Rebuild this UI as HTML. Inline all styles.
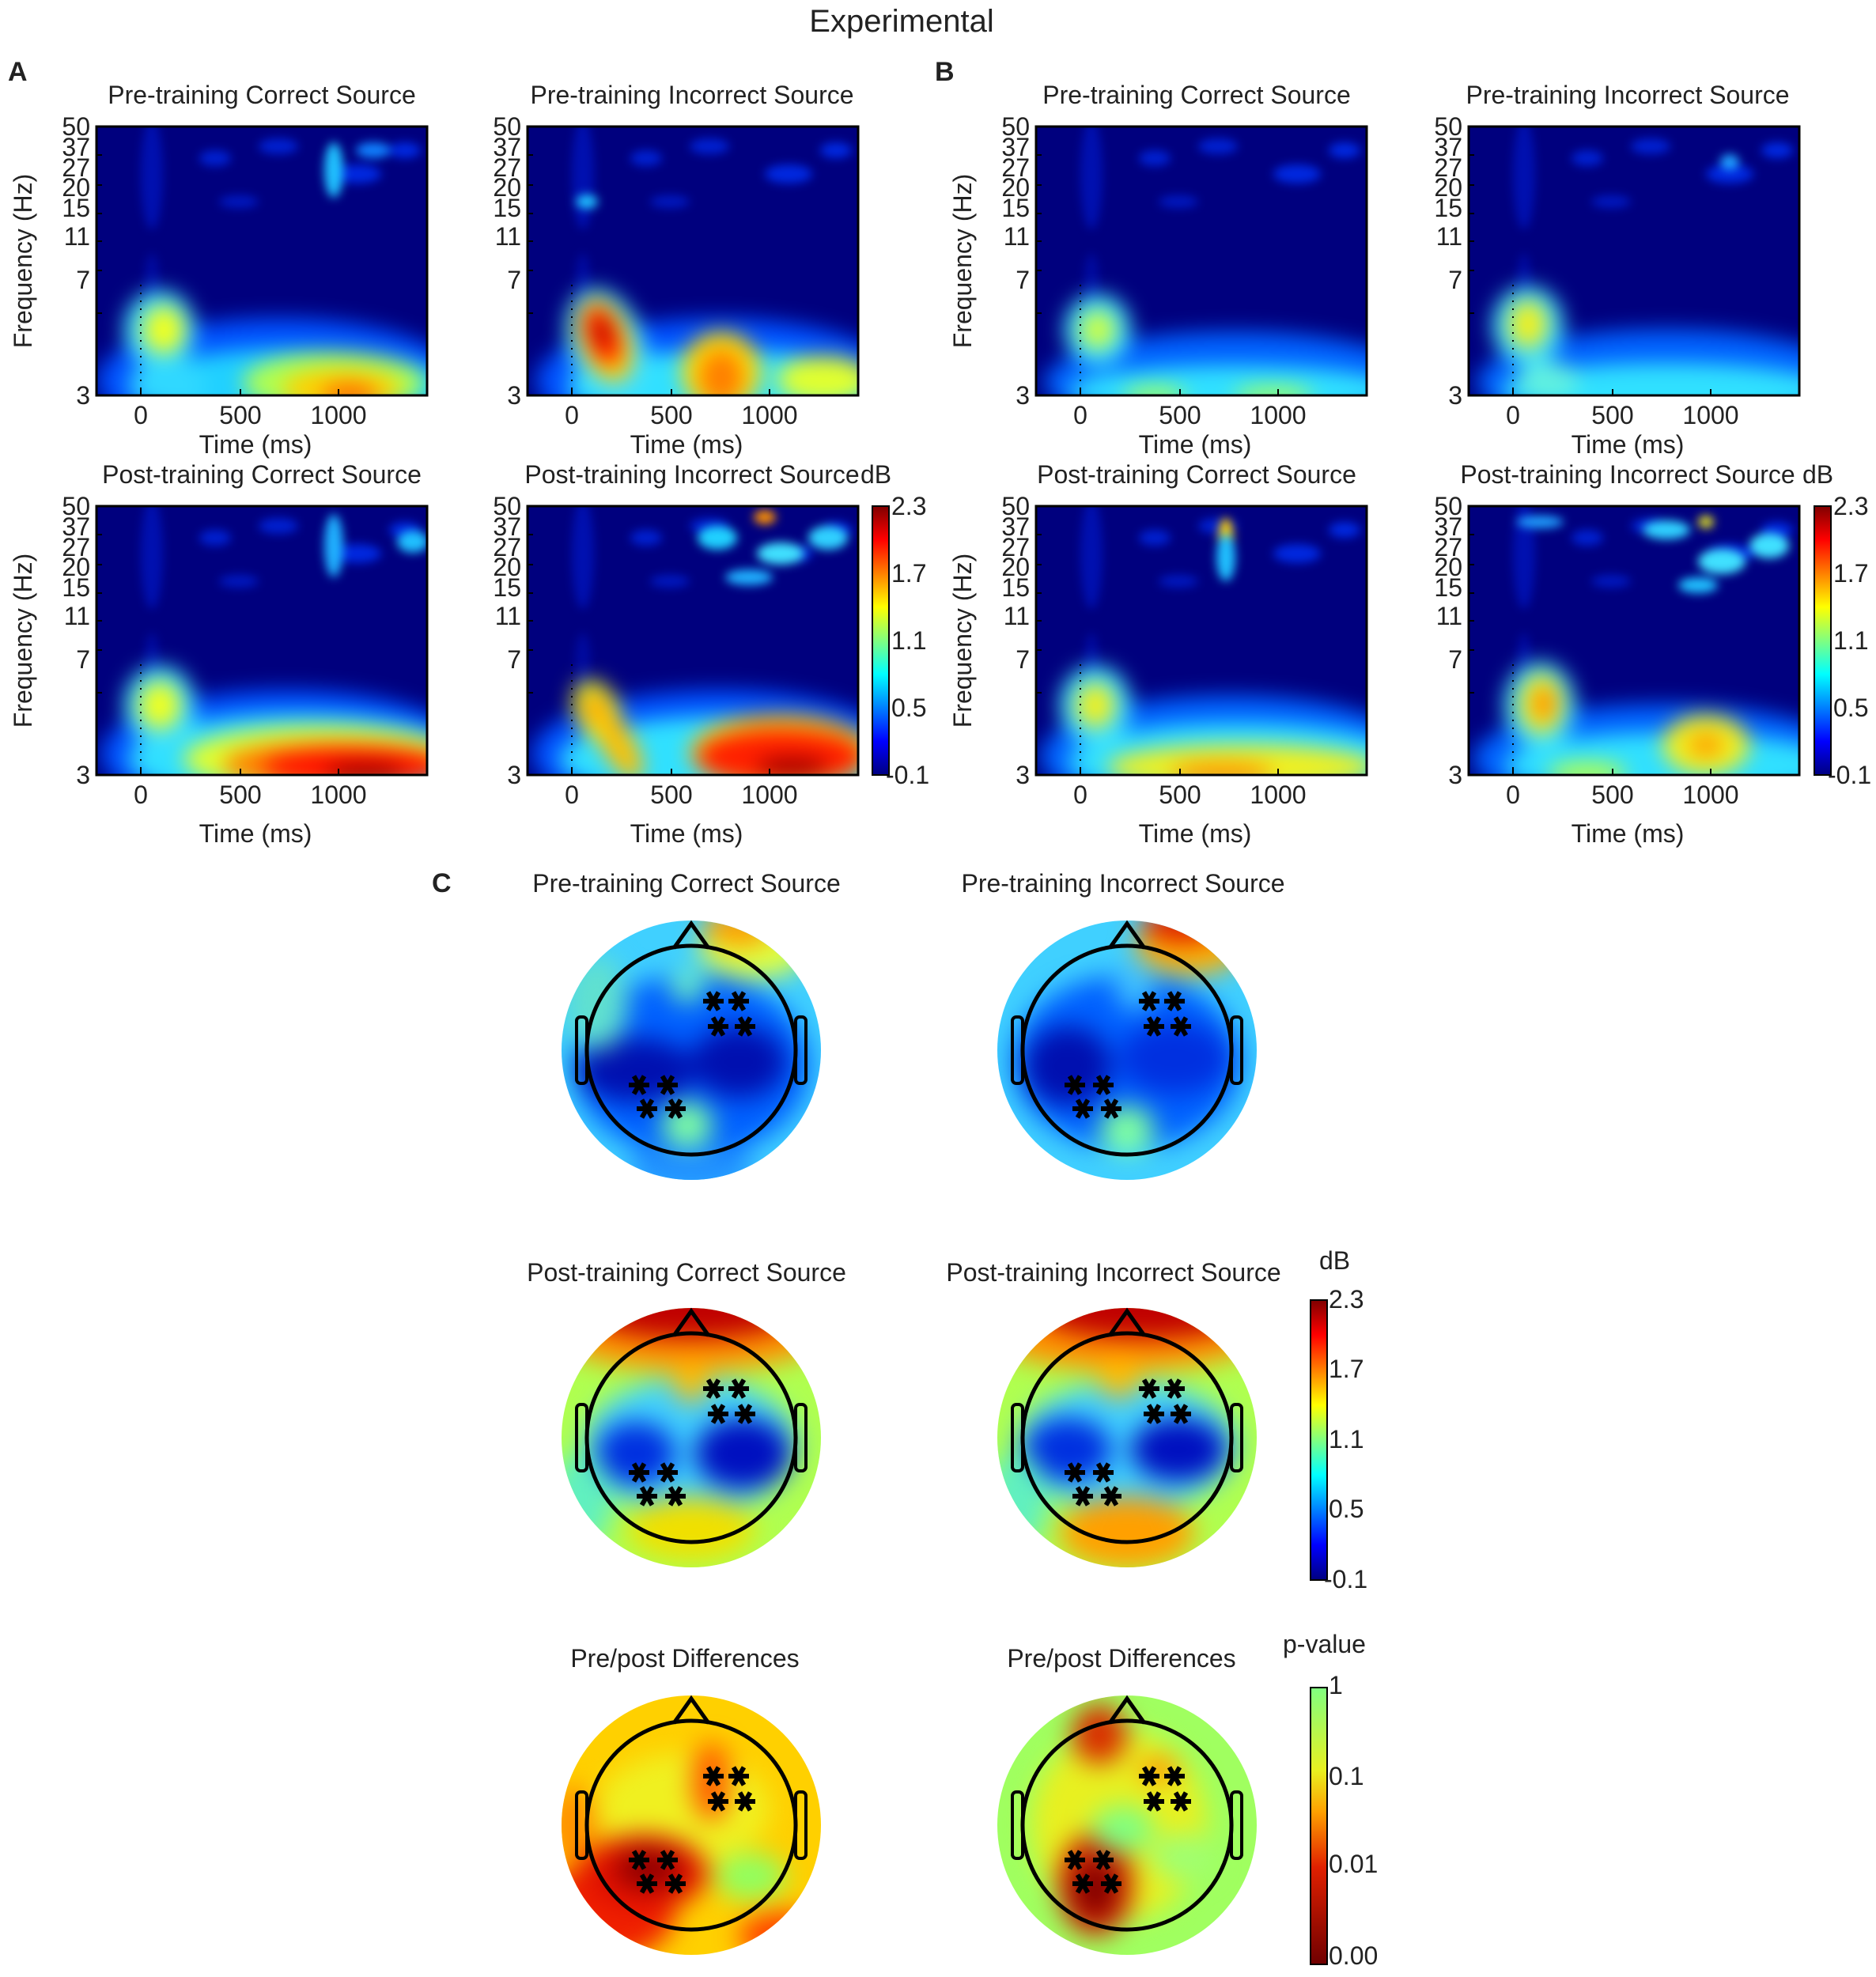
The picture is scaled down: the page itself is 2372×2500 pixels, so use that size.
<!DOCTYPE html>
<html><head><meta charset="utf-8"><style>
html,body{margin:0;padding:0;background:#fff}
svg{display:block}
text{font-family:"Liberation Sans",sans-serif;fill:#222}
.t{font-size:32px;text-anchor:middle}
.k{font-size:32px}
.ke{font-size:32px;text-anchor:end}
.kc{font-size:32px;text-anchor:middle}
</style></head><body>
<svg width="2372" height="2500" viewBox="0 0 2372 2500" xmlns="http://www.w3.org/2000/svg" color-interpolation-filters="sRGB">
<defs>
<filter id="bs" x="-30%" y="-30%" width="160%" height="160%" color-interpolation-filters="sRGB"><feGaussianBlur stdDeviation="13"/></filter>
<filter id="bt" x="-30%" y="-30%" width="160%" height="160%" color-interpolation-filters="sRGB"><feGaussianBlur stdDeviation="6"/></filter>
<filter id="bh" x="-30%" y="-30%" width="160%" height="160%" color-interpolation-filters="sRGB"><feGaussianBlur stdDeviation="16"/></filter>
<clipPath id="cpS"><rect x="0" y="0" width="418" height="340"/></clipPath>
<clipPath id="cpH"><circle cx="0" cy="0" r="164"/></clipPath>
<linearGradient id="jet" x1="0" y1="0" x2="0" y2="1">
<stop offset="0" stop-color="#800000"/><stop offset=".125" stop-color="#ff0000"/><stop offset=".375" stop-color="#ffff00"/><stop offset=".5" stop-color="#80ff80"/><stop offset=".625" stop-color="#00ffff"/><stop offset=".875" stop-color="#0000ff"/><stop offset="1" stop-color="#000080"/>
</linearGradient>
<linearGradient id="pg" x1="0" y1="0" x2="0" y2="1">
<stop offset="0" stop-color="#80ff80"/><stop offset=".3" stop-color="#e8f020"/><stop offset=".45" stop-color="#ffa000"/><stop offset=".65" stop-color="#e02000"/><stop offset="1" stop-color="#700000"/>
</linearGradient>
<g id="axS">
<rect x="0" y="0" width="418" height="340" fill="none" stroke="#000" stroke-width="3"/>
<path d="M0 36h7M0 74h7M0 110h7M0 145h7M0 182h7M0 236h7M56 340v-8M182 340v-8M306 340v-8" stroke="#000" stroke-width="2"/>
<path d="M56 200V340" stroke="#000" stroke-width="2" stroke-dasharray="2 8"/>
</g>
<g id="ast"><path d="M-13 0H13M-6.5 -11.3L6.5 11.3M6.5 -11.3L-6.5 11.3" stroke="#000" stroke-width="6"/></g>
<g id="head" fill="none" stroke="#000">
<circle cx="0" cy="0" r="132" stroke-width="5"/>
<path d="M-22 -129L0 -160L22 -129" stroke-width="5"/>
<rect x="-145" y="-42" width="13" height="84" rx="5" stroke-width="4"/>
<rect x="132" y="-42" width="13" height="84" rx="5" stroke-width="4"/>
</g>
<g id="stars">
<use href="#ast" x="28" y="-62"/><use href="#ast" x="60" y="-62"/>
<use href="#ast" x="34" y="-30"/><use href="#ast" x="68" y="-30"/>
<use href="#ast" x="-66" y="44"/><use href="#ast" x="-30" y="44"/>
<use href="#ast" x="-56" y="74"/><use href="#ast" x="-20" y="74"/>
</g>
<g id="spk">
<ellipse cx="70" cy="60" rx="14" ry="70" fill="#0010b0"/>
<ellipse cx="70" cy="200" rx="10" ry="40" fill="#000aa0"/>
<ellipse cx="150" cy="40" rx="20" ry="10" fill="#0020d0"/>
<ellipse cx="230" cy="25" rx="25" ry="10" fill="#0020d0"/>
<ellipse cx="330" cy="60" rx="30" ry="12" fill="#0028e0"/>
<ellipse cx="390" cy="30" rx="20" ry="10" fill="#0028e0"/>
<ellipse cx="180" cy="95" rx="25" ry="8" fill="#0018c0"/>
</g>
</defs>

<text x="1140" y="40" style="font-size:40px;text-anchor:middle">Experimental</text>
<text x="10" y="102" style="font-size:34px;font-weight:bold">A</text>
<text x="1182" y="102" style="font-size:34px;font-weight:bold">B</text>
<text x="546" y="1128" style="font-size:34px;font-weight:bold">C</text>

<!-- A1 -->
<g transform="translate(122,160)">
<g clip-path="url(#cpS)"><rect width="418" height="340" fill="#00007e"/>
<g filter="url(#bt)"><use href="#spk"/><ellipse cx="300" cy="55" rx="12" ry="35" fill="#20c0ff"/><ellipse cx="350" cy="30" rx="22" ry="10" fill="#1080ff"/></g>
<g filter="url(#bs)">
<ellipse cx="230" cy="322" rx="230" ry="80" fill="#0050ff"/>
<ellipse cx="250" cy="330" rx="200" ry="50" fill="#20d0ff"/>
<ellipse cx="80" cy="257" rx="45" ry="50" fill="#40e0ff"/>
<ellipse cx="90" cy="327" rx="50" ry="30" fill="#30d8ff"/>
<ellipse cx="85" cy="257" rx="26" ry="30" fill="#f0ff20"/>
<ellipse cx="300" cy="324" rx="115" ry="38" fill="#b0ff50"/>
<ellipse cx="310" cy="332" rx="75" ry="25" fill="#ffd000"/>
<ellipse cx="320" cy="340" rx="35" ry="15" fill="#ff7000"/>
</g></g>
<use href="#axS"/>
</g>
<!-- A2 -->
<g transform="translate(667,160)">
<g clip-path="url(#cpS)"><rect width="418" height="340" fill="#00007e"/>
<g filter="url(#bt)"><use href="#spk"/><ellipse cx="75" cy="95" rx="14" ry="9" fill="#20c0ff"/></g>
<g filter="url(#bs)">
<ellipse cx="240" cy="322" rx="230" ry="80" fill="#0050ff"/>
<ellipse cx="250" cy="330" rx="200" ry="48" fill="#30e0ff"/>
<ellipse cx="100" cy="277" rx="48" ry="75" fill="#40e0ff" transform="rotate(-20 100 277)"/>
<ellipse cx="98" cy="270" rx="32" ry="55" fill="#ffd000" transform="rotate(-20 98 270)"/>
<ellipse cx="95" cy="264" rx="20" ry="38" fill="#ff2000" transform="rotate(-20 95 264)"/>
<ellipse cx="95" cy="260" rx="9" ry="18" fill="#b00000"/>
<ellipse cx="245" cy="310" rx="50" ry="50" fill="#ffe000"/>
<ellipse cx="245" cy="317" rx="28" ry="35" fill="#ff8000"/>
<ellipse cx="375" cy="320" rx="60" ry="30" fill="#e0ff30"/>
</g></g>
<use href="#axS"/>
</g>
<!-- B1 -->
<g transform="translate(1310,160)">
<g clip-path="url(#cpS)"><rect width="418" height="340" fill="#00007e"/>
<g filter="url(#bt)"><use href="#spk"/></g>
<g filter="url(#bs)">
<ellipse cx="250" cy="324" rx="240" ry="65" fill="#0060ff"/>
<ellipse cx="250" cy="334" rx="210" ry="32" fill="#30e0ff"/>
<ellipse cx="78" cy="257" rx="42" ry="45" fill="#40e0ff"/>
<ellipse cx="78" cy="257" rx="22" ry="24" fill="#d0ff40"/>
<ellipse cx="150" cy="340" rx="40" ry="12" fill="#a0ff60"/>
<ellipse cx="300" cy="340" rx="50" ry="12" fill="#a0ff60"/>
</g></g>
<use href="#axS"/>
</g>
<!-- B2 -->
<g transform="translate(1857,160)">
<g clip-path="url(#cpS)"><rect width="418" height="340" fill="#00007e"/>
<g filter="url(#bt)"><use href="#spk"/><ellipse cx="330" cy="45" rx="12" ry="10" fill="#20a0ff"/></g>
<g filter="url(#bs)">
<ellipse cx="250" cy="324" rx="240" ry="68" fill="#0060ff"/>
<ellipse cx="250" cy="334" rx="210" ry="35" fill="#30e0ff"/>
<ellipse cx="75" cy="252" rx="45" ry="50" fill="#40e0ff"/>
<ellipse cx="75" cy="250" rx="24" ry="30" fill="#f0f020"/>
<ellipse cx="100" cy="322" rx="40" ry="25" fill="#60f0e0"/>
</g></g>
<use href="#axS"/>
</g>
<!-- A3 -->
<g transform="translate(122,640)">
<g clip-path="url(#cpS)"><rect width="418" height="340" fill="#00007e"/>
<g filter="url(#bt)"><use href="#spk"/><ellipse cx="300" cy="50" rx="12" ry="40" fill="#20b0ff"/><ellipse cx="400" cy="45" rx="20" ry="14" fill="#20c0ff"/></g>
<g filter="url(#bs)">
<ellipse cx="240" cy="314" rx="235" ry="82" fill="#0050ff"/>
<ellipse cx="255" cy="320" rx="215" ry="58" fill="#30e0ff"/>
<ellipse cx="80" cy="252" rx="45" ry="50" fill="#40e0ff"/>
<ellipse cx="80" cy="252" rx="26" ry="30" fill="#f0ff20"/>
<ellipse cx="285" cy="320" rx="175" ry="42" fill="#e0ff30"/>
<ellipse cx="305" cy="327" rx="145" ry="30" fill="#ff8000"/>
<ellipse cx="325" cy="330" rx="115" ry="22" fill="#ff1000"/>
<ellipse cx="340" cy="338" rx="50" ry="12" fill="#a00000"/>
</g></g>
<use href="#axS"/>
</g>
<!-- A4 -->
<g transform="translate(667,640)">
<g clip-path="url(#cpS)"><rect width="418" height="340" fill="#00007e"/>
<g filter="url(#bt)"><use href="#spk"/>
<ellipse cx="240" cy="40" rx="25" ry="15" fill="#20d0ff"/><ellipse cx="320" cy="60" rx="30" ry="14" fill="#40e0ff"/><ellipse cx="380" cy="40" rx="25" ry="15" fill="#30d0ff"/><ellipse cx="280" cy="90" rx="30" ry="10" fill="#20b0ff"/><ellipse cx="300" cy="14" rx="14" ry="9" fill="#ff9000"/></g>
<g filter="url(#bs)">
<ellipse cx="240" cy="314" rx="235" ry="82" fill="#0050ff"/>
<ellipse cx="255" cy="320" rx="215" ry="55" fill="#30e0ff"/>
<ellipse cx="88" cy="260" rx="28" ry="42" fill="#e0ff30" transform="rotate(-25 88 260)"/>
<ellipse cx="88" cy="260" rx="16" ry="26" fill="#ffa000" transform="rotate(-25 88 260)"/>
<ellipse cx="115" cy="302" rx="20" ry="50" fill="#ffc000" transform="rotate(-30 115 302)"/>
<ellipse cx="320" cy="312" rx="115" ry="48" fill="#ffd000"/>
<ellipse cx="320" cy="317" rx="105" ry="35" fill="#ff2000"/>
<ellipse cx="335" cy="330" rx="45" ry="12" fill="#a00000"/>
</g></g>
<use href="#axS"/>
</g>
<!-- B3 -->
<g transform="translate(1310,640)">
<g clip-path="url(#cpS)"><rect width="418" height="340" fill="#00007e"/>
<g filter="url(#bt)"><use href="#spk"/><ellipse cx="240" cy="45" rx="10" ry="30" fill="#ffd000"/><ellipse cx="240" cy="65" rx="12" ry="30" fill="#20c0ff"/></g>
<g filter="url(#bs)">
<ellipse cx="245" cy="317" rx="240" ry="78" fill="#0060ff"/>
<ellipse cx="255" cy="324" rx="215" ry="50" fill="#30e0ff"/>
<ellipse cx="75" cy="252" rx="45" ry="50" fill="#40e0ff"/>
<ellipse cx="75" cy="252" rx="24" ry="28" fill="#f0f020"/>
<ellipse cx="260" cy="330" rx="170" ry="28" fill="#f0f020"/>
<ellipse cx="235" cy="337" rx="65" ry="12" fill="#ff9000"/>
</g></g>
<use href="#axS"/>
</g>
<!-- B4 -->
<g transform="translate(1857,640)">
<g clip-path="url(#cpS)"><rect width="418" height="340" fill="#00007e"/>
<g filter="url(#bt)"><use href="#spk"/>
<ellipse cx="250" cy="30" rx="30" ry="12" fill="#30d0ff"/><ellipse cx="320" cy="70" rx="30" ry="16" fill="#40e0ff"/><ellipse cx="380" cy="50" rx="25" ry="16" fill="#40e0ff"/><ellipse cx="290" cy="100" rx="25" ry="10" fill="#20c0ff"/><ellipse cx="300" cy="20" rx="10" ry="8" fill="#e0e020"/><ellipse cx="90" cy="20" rx="30" ry="8" fill="#20a0ff"/></g>
<g filter="url(#bs)">
<ellipse cx="245" cy="320" rx="240" ry="70" fill="#0060ff"/>
<ellipse cx="255" cy="328" rx="210" ry="42" fill="#30e0ff"/>
<ellipse cx="90" cy="252" rx="45" ry="55" fill="#40e0ff"/>
<ellipse cx="92" cy="250" rx="28" ry="38" fill="#f0f020"/>
<ellipse cx="95" cy="250" rx="14" ry="22" fill="#ff9000"/>
<ellipse cx="300" cy="302" rx="55" ry="38" fill="#f0f020"/>
<ellipse cx="300" cy="302" rx="22" ry="15" fill="#ffa000"/>
<ellipse cx="150" cy="338" rx="50" ry="15" fill="#b0ff50"/>
</g></g>
<use href="#axS"/>
</g>

<!-- Spectrogram titles -->
<text class="t" x="331" y="131">Pre-training Correct Source</text>
<text class="t" x="875" y="131">Pre-training Incorrect Source</text>
<text class="t" x="1513" y="131">Pre-training Correct Source</text>
<text class="t" x="2058" y="131">Pre-training Incorrect Source</text>
<text class="t" x="331" y="611">Post-training Correct Source</text>
<text class="t" x="875" y="611">Post-training Incorrect Source</text>
<text class="k" x="1088" y="611">dB</text>
<text class="t" x="1513" y="611">Post-training Correct Source</text>
<text class="t" x="2058" y="611">Post-training Incorrect Source</text>
<text class="k" x="2279" y="611">dB</text>

<!-- Y tick labels -->
<text class="ke" x="114" y="171">50</text><text class="ke" x="114" y="197">37</text><text class="ke" x="114" y="223">27</text><text class="ke" x="114" y="248">20</text><text class="ke" x="114" y="274">15</text><text class="ke" x="114" y="310">11</text><text class="ke" x="114" y="365">7</text><text class="ke" x="114" y="511">3</text>
<text class="ke" x="659" y="171">50</text><text class="ke" x="659" y="197">37</text><text class="ke" x="659" y="223">27</text><text class="ke" x="659" y="248">20</text><text class="ke" x="659" y="274">15</text><text class="ke" x="659" y="310">11</text><text class="ke" x="659" y="365">7</text><text class="ke" x="659" y="511">3</text>
<text class="ke" x="1302" y="171">50</text><text class="ke" x="1302" y="197">37</text><text class="ke" x="1302" y="223">27</text><text class="ke" x="1302" y="248">20</text><text class="ke" x="1302" y="274">15</text><text class="ke" x="1302" y="310">11</text><text class="ke" x="1302" y="365">7</text><text class="ke" x="1302" y="511">3</text>
<text class="ke" x="1849" y="171">50</text><text class="ke" x="1849" y="197">37</text><text class="ke" x="1849" y="223">27</text><text class="ke" x="1849" y="248">20</text><text class="ke" x="1849" y="274">15</text><text class="ke" x="1849" y="310">11</text><text class="ke" x="1849" y="365">7</text><text class="ke" x="1849" y="511">3</text>
<text class="ke" x="114" y="651">50</text><text class="ke" x="114" y="677">37</text><text class="ke" x="114" y="703">27</text><text class="ke" x="114" y="728">20</text><text class="ke" x="114" y="754">15</text><text class="ke" x="114" y="790">11</text><text class="ke" x="114" y="845">7</text><text class="ke" x="114" y="991">3</text>
<text class="ke" x="659" y="651">50</text><text class="ke" x="659" y="677">37</text><text class="ke" x="659" y="703">27</text><text class="ke" x="659" y="728">20</text><text class="ke" x="659" y="754">15</text><text class="ke" x="659" y="790">11</text><text class="ke" x="659" y="845">7</text><text class="ke" x="659" y="991">3</text>
<text class="ke" x="1302" y="651">50</text><text class="ke" x="1302" y="677">37</text><text class="ke" x="1302" y="703">27</text><text class="ke" x="1302" y="728">20</text><text class="ke" x="1302" y="754">15</text><text class="ke" x="1302" y="790">11</text><text class="ke" x="1302" y="845">7</text><text class="ke" x="1302" y="991">3</text>
<text class="ke" x="1849" y="651">50</text><text class="ke" x="1849" y="677">37</text><text class="ke" x="1849" y="703">27</text><text class="ke" x="1849" y="728">20</text><text class="ke" x="1849" y="754">15</text><text class="ke" x="1849" y="790">11</text><text class="ke" x="1849" y="845">7</text><text class="ke" x="1849" y="991">3</text>

<!-- X tick labels -->
<text class="kc" x="178" y="536">0</text><text class="kc" x="304" y="536">500</text><text class="kc" x="428" y="536">1000</text>
<text class="kc" x="723" y="536">0</text><text class="kc" x="849" y="536">500</text><text class="kc" x="973" y="536">1000</text>
<text class="kc" x="1366" y="536">0</text><text class="kc" x="1492" y="536">500</text><text class="kc" x="1616" y="536">1000</text>
<text class="kc" x="1913" y="536">0</text><text class="kc" x="2039" y="536">500</text><text class="kc" x="2163" y="536">1000</text>
<text class="kc" x="178" y="1016">0</text><text class="kc" x="304" y="1016">500</text><text class="kc" x="428" y="1016">1000</text>
<text class="kc" x="723" y="1016">0</text><text class="kc" x="849" y="1016">500</text><text class="kc" x="973" y="1016">1000</text>
<text class="kc" x="1366" y="1016">0</text><text class="kc" x="1492" y="1016">500</text><text class="kc" x="1616" y="1016">1000</text>
<text class="kc" x="1913" y="1016">0</text><text class="kc" x="2039" y="1016">500</text><text class="kc" x="2163" y="1016">1000</text>
<text class="kc" x="323" y="573">Time (ms)</text><text class="kc" x="868" y="573">Time (ms)</text><text class="kc" x="1511" y="573">Time (ms)</text><text class="kc" x="2058" y="573">Time (ms)</text>
<text class="kc" x="323" y="1065">Time (ms)</text><text class="kc" x="868" y="1065">Time (ms)</text><text class="kc" x="1511" y="1065">Time (ms)</text><text class="kc" x="2058" y="1065">Time (ms)</text>

<text class="kc" transform="translate(40,330) rotate(-90)">Frequency (Hz)</text>
<text class="kc" transform="translate(40,810) rotate(-90)">Frequency (Hz)</text>
<text class="kc" transform="translate(1228,330) rotate(-90)">Frequency (Hz)</text>
<text class="kc" transform="translate(1228,810) rotate(-90)">Frequency (Hz)</text>

<!-- Spectrogram colorbars -->
<rect x="1103" y="640" width="21" height="340" fill="url(#jet)" stroke="#000" stroke-width="2"/>
<rect x="2294" y="640" width="21" height="340" fill="url(#jet)" stroke="#000" stroke-width="2"/>
<text class="k" x="1127" y="651">2.3</text><text class="k" x="1127" y="736">1.7</text><text class="k" x="1127" y="821">1.1</text><text class="k" x="1127" y="906">0.5</text><text class="k" x="1120" y="991">-0.1</text>
<text class="k" x="2318" y="651">2.3</text><text class="k" x="2318" y="736">1.7</text><text class="k" x="2318" y="821">1.1</text><text class="k" x="2318" y="906">0.5</text><text class="k" x="2311" y="991">-0.1</text>

<!-- ===== Topomaps ===== -->
<text class="t" x="868" y="1128">Pre-training Correct Source</text>
<text class="t" x="1420" y="1128">Pre-training Incorrect Source</text>
<text class="t" x="868" y="1620">Post-training Correct Source</text>
<text class="t" x="1408" y="1620">Post-training Incorrect Source</text>
<text class="k" x="1668" y="1605">dB</text>
<text class="t" x="866" y="2108">Pre/post Differences</text>
<text class="t" x="1418" y="2108">Pre/post Differences</text>
<text class="k" x="1622" y="2090">p-value</text>

<!-- T1 -->
<g transform="translate(874,1328)">
<g clip-path="url(#cpH)"><rect x="-170" y="-170" width="340" height="340" fill="#40d0ff"/>
<g filter="url(#bh)">
<ellipse cx="0" cy="20" rx="150" ry="115" fill="#0060ff"/>
<ellipse cx="-70" cy="25" rx="75" ry="40" fill="#0010b0"/>
<ellipse cx="60" cy="15" rx="60" ry="45" fill="#0010b0"/>
<ellipse cx="-5" cy="95" rx="32" ry="30" fill="#80ffa0"/>
<ellipse cx="-5" cy="-80" rx="22" ry="20" fill="#70f0c0"/>
<ellipse cx="80" cy="-130" rx="70" ry="40" fill="#e0ff40"/>
<ellipse cx="60" cy="-155" rx="45" ry="25" fill="#ffa000"/>
<ellipse cx="0" cy="150" rx="80" ry="30" fill="#2090ff"/>
<ellipse cx="-120" cy="-60" rx="40" ry="60" fill="#60e0d0"/>
</g></g>
<use href="#head"/><use href="#stars"/>
</g>
<!-- T2 -->
<g transform="translate(1425,1328)">
<g clip-path="url(#cpH)"><rect x="-170" y="-170" width="340" height="340" fill="#40d0ff"/>
<g filter="url(#bh)">
<ellipse cx="0" cy="15" rx="145" ry="110" fill="#0060ff"/>
<ellipse cx="-75" cy="20" rx="55" ry="50" fill="#0010b0"/>
<ellipse cx="60" cy="10" rx="70" ry="45" fill="#0030e0"/>
<ellipse cx="0" cy="100" rx="35" ry="30" fill="#80ffa0"/>
<ellipse cx="10" cy="-80" rx="25" ry="30" fill="#40c0ff"/>
<ellipse cx="80" cy="-135" rx="70" ry="40" fill="#ffb000"/>
<ellipse cx="70" cy="-160" rx="50" ry="25" fill="#e02000"/>
</g></g>
<use href="#head"/><use href="#stars"/>
</g>
<!-- T3 -->
<g transform="translate(874,1818)">
<g clip-path="url(#cpH)"><rect x="-170" y="-170" width="340" height="340" fill="#b0ff50"/>
<g filter="url(#bh)">
<ellipse cx="0" cy="-130" rx="170" ry="45" fill="#ff9000"/>
<ellipse cx="0" cy="-165" rx="140" ry="40" fill="#c00000"/>
<ellipse cx="0" cy="10" rx="135" ry="85" fill="#40d0ff"/>
<ellipse cx="-70" cy="20" rx="50" ry="40" fill="#0030e0"/>
<ellipse cx="65" cy="20" rx="60" ry="45" fill="#0010c0"/>
<ellipse cx="0" cy="-70" rx="22" ry="25" fill="#ffc000"/>
<ellipse cx="0" cy="115" rx="80" ry="40" fill="#f0e000"/>
<ellipse cx="-140" cy="80" rx="40" ry="60" fill="#60f0c0"/>
</g></g>
<use href="#head"/><use href="#stars"/>
</g>
<!-- T4 -->
<g transform="translate(1425,1818)">
<g clip-path="url(#cpH)"><rect x="-170" y="-170" width="340" height="340" fill="#b0ff50"/>
<g filter="url(#bh)">
<ellipse cx="0" cy="-130" rx="170" ry="45" fill="#ff9000"/>
<ellipse cx="20" cy="-165" rx="140" ry="40" fill="#c00000"/>
<ellipse cx="0" cy="10" rx="140" ry="80" fill="#40d0ff"/>
<ellipse cx="-75" cy="15" rx="55" ry="40" fill="#0030e0"/>
<ellipse cx="65" cy="15" rx="60" ry="40" fill="#0010c0"/>
<ellipse cx="-10" cy="-75" rx="25" ry="25" fill="#ffc000"/>
<ellipse cx="0" cy="120" rx="85" ry="45" fill="#ffa000"/>
<ellipse cx="-140" cy="80" rx="40" ry="60" fill="#60f0c0"/>
</g></g>
<use href="#head"/><use href="#stars"/>
</g>
<rect x="1657" y="1644" width="21" height="354" fill="url(#jet)" stroke="#000" stroke-width="2"/>
<text class="k" x="1680" y="1654">2.3</text><text class="k" x="1680" y="1742">1.7</text><text class="k" x="1680" y="1831">1.1</text><text class="k" x="1680" y="1919">0.5</text><text class="k" x="1674" y="2008">-0.1</text>
<!-- T5 -->
<g transform="translate(874,2308)">
<g clip-path="url(#cpH)"><rect x="-170" y="-170" width="340" height="340" fill="#ffd000"/>
<g filter="url(#bh)">
<ellipse cx="-10" cy="-20" rx="110" ry="70" fill="#f0f020"/>
<ellipse cx="-110" cy="110" rx="90" ry="60" fill="#f02000"/>
<ellipse cx="-60" cy="60" rx="80" ry="48" fill="#e01000"/>
<ellipse cx="-55" cy="55" rx="40" ry="25" fill="#900000"/>
<ellipse cx="25" cy="-55" rx="25" ry="50" fill="#ff6000"/>
<ellipse cx="75" cy="65" rx="45" ry="30" fill="#90ff60"/>
<ellipse cx="120" cy="140" rx="60" ry="30" fill="#ff4000"/>
<ellipse cx="-150" cy="0" rx="30" ry="50" fill="#ff9000"/>
</g></g>
<use href="#head"/><use href="#stars"/>
</g>
<!-- T6 -->
<g transform="translate(1425,2308)">
<g clip-path="url(#cpH)"><rect x="-170" y="-170" width="340" height="340" fill="#a0ff60"/>
<g filter="url(#bh)">
<ellipse cx="-10" cy="0" rx="110" ry="120" fill="#e8f020"/>
<ellipse cx="-35" cy="-115" rx="35" ry="38" fill="#d83000"/>
<ellipse cx="-40" cy="75" rx="48" ry="65" fill="#d02000"/>
<ellipse cx="-40" cy="80" rx="25" ry="35" fill="#800000"/>
<ellipse cx="-5" cy="5" rx="40" ry="30" fill="#80ff80"/>
<ellipse cx="40" cy="-70" rx="25" ry="15" fill="#ff9000"/>
<ellipse cx="70" cy="40" rx="40" ry="30" fill="#a0ff70"/>
</g></g>
<use href="#head"/><use href="#stars"/>
</g>
<rect x="1657" y="2134" width="21" height="350" fill="url(#pg)" stroke="#000" stroke-width="2"/>
<text class="k" x="1680" y="2142">1</text><text class="k" x="1680" y="2257">0.1</text><text class="k" x="1680" y="2368">0.01</text><text class="k" x="1680" y="2484">0.00</text>
</svg>
</body></html>
